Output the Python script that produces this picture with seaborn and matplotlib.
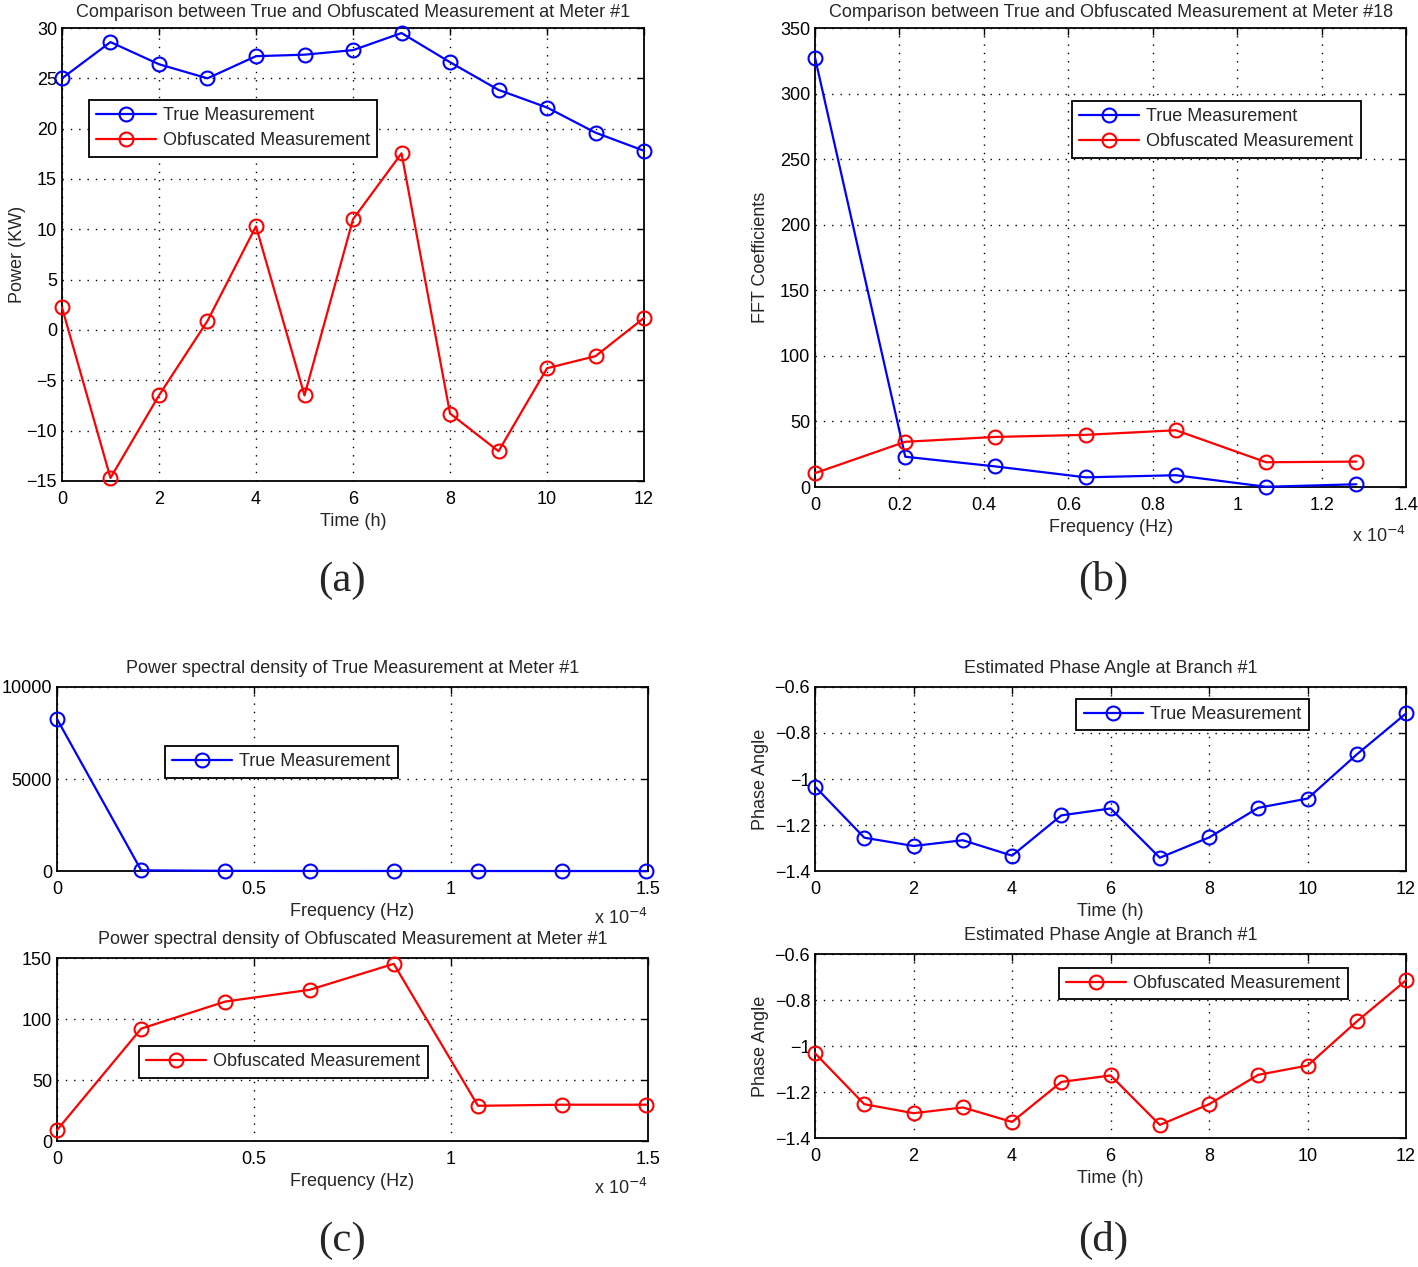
import numpy as np
import matplotlib
matplotlib.use("Agg")
import matplotlib.pyplot as plt
import seaborn as sns

# panel (a): power over time at meter #1
hours = list(range(13))
true_power = [25.0, 28.6, 26.4, 25.0, 27.2, 27.35, 27.8, 29.5, 26.6, 23.85, 22.1, 19.6, 17.8]
obf_power = [2.25, -14.7, -6.5, 0.9, 10.3, -6.5, 11.0, 17.55, -8.3, -12.05, -3.8, -2.6, 1.2]

# panel (b): FFT coefficients at meter #18 (frequency in units of 1e-4 Hz)
fft_freq = [0.0, 0.2137, 0.4274, 0.6410, 0.8547, 1.0684, 1.2821]
fft_true = [327.2, 23.1, 15.7, 7.4, 9.0, 0.2, 2.1]
fft_obf = [10.6, 34.5, 38.2, 39.8, 43.3, 18.9, 19.4]

# panel (c): power spectral density at meter #1
psd_freq = [0.0, 0.2137, 0.4274, 0.6410, 0.8547, 1.0684, 1.2821, 1.4957]
psd_true = [8260, 40, 12, 6, 4, 3, 2, 2]
psd_obf = [9.0, 92.2, 114.4, 124.0, 145.3, 28.9, 29.8, 29.8]

# panel (d): estimated phase angle at branch #1
phase_true = [-1.033, -1.255, -1.291, -1.266, -1.333, -1.158, -1.128, -1.342, -1.254, -1.125, -1.085, -0.893, -0.715]
phase_obf = [-1.032, -1.253, -1.292, -1.267, -1.330, -1.156, -1.128, -1.343, -1.253, -1.125, -1.085, -0.893, -0.714]

sns.set_theme(style="white")
plt.rcParams['font.family'] = ['Liberation Sans', 'DejaVu Sans']
plt.rcParams['xtick.direction'] = 'in'
plt.rcParams['ytick.direction'] = 'in'
plt.rcParams['axes.edgecolor'] = 'black'
plt.rcParams['axes.linewidth'] = 1.3
plt.rcParams['axes.unicode_minus'] = True

FS = 13
fig = plt.figure(figsize=(14.18, 12.67), dpi=100)

def style(ax, xt, yt, xlim, ylim):
    ax.set_xlim(xlim)
    ax.set_ylim(ylim)
    ax.set_xticks(xt)
    ax.set_yticks(yt)
    ax.tick_params(labelsize=FS, length=5, width=1, top=True, right=True, colors='black')
    ax.tick_params(axis='x', pad=7)
    ax.grid(True, color='black', linestyle=(0, (1, 5)), linewidth=1.0)
    for s in ax.spines.values():
        s.set_color('black')
        s.set_zorder(1)

def line(ax, x, y, color, label):
    sns.lineplot(x=x, y=y, ax=ax, color=color, marker='o', markersize=10,
                 markerfacecolor='none', markeredgecolor=color, markeredgewidth=1.5,
                 linewidth=1.6, label=label, clip_on=False, zorder=5)

def legend(ax, anchor):
    lg = ax.legend(loc='upper left', bbox_to_anchor=anchor, fontsize=FS, frameon=True,
                   fancybox=False, framealpha=1, edgecolor='black', borderpad=0.4,
                   handlelength=3.3, handletextpad=0.4, labelspacing=0.45, borderaxespad=0)
    lg.get_frame().set_linewidth(1.3)
    lg.set_zorder(10)

def times_note(ax, dy):
    ax.text(1.0, dy, r'x 10$^{-4}$', transform=ax.transAxes, ha='right', va='top', fontsize=FS)

# (a)
ax = fig.add_axes([0.0437, 0.6204, 0.4105, 0.3575])
line(ax, hours, true_power, 'blue', 'True Measurement')
line(ax, hours, obf_power, 'red', 'Obfuscated Measurement')
style(ax, range(0, 13, 2), range(-15, 31, 5), (0, 12), (-15, 30))
ax.set_title('Comparison between True and Obfuscated Measurement at Meter #1', fontsize=FS, pad=8)
ax.set_xlabel('Time (h)', fontsize=FS, labelpad=4)
ax.set_ylabel('Power (KW)', fontsize=FS, labelpad=0)
legend(ax, (0.046, 0.841))

# (b)
ax = fig.add_axes([0.5748, 0.6156, 0.4168, 0.3623])
line(ax, fft_freq, fft_true, 'blue', 'True Measurement')
line(ax, fft_freq, fft_obf, 'red', 'Obfuscated Measurement')
style(ax, [0, 0.2, 0.4, 0.6, 0.8, 1.0, 1.2, 1.4], range(0, 351, 50), (0, 1.4), (0, 350))
ax.set_xticklabels(['0', '0.2', '0.4', '0.6', '0.8', '1', '1.2', '1.4'])
ax.set_title('Comparison between True and Obfuscated Measurement at Meter #18', fontsize=FS, pad=8)
ax.set_xlabel('Frequency (Hz)', fontsize=FS, labelpad=4)
ax.set_ylabel('FFT Coefficients', fontsize=FS, labelpad=8)
legend(ax, (0.435, 0.841))
times_note(ax, -0.085)

# (c) top
ax = fig.add_axes([0.0402, 0.3125, 0.4168, 0.1453])
line(ax, psd_freq, psd_true, 'blue', 'True Measurement')
style(ax, [0, 0.5, 1.0, 1.5], [0, 5000, 10000], (0, 1.5), (0, 10000))
ax.set_xticklabels(['0', '0.5', '1', '1.5'])
ax.set_title('Power spectral density of True Measurement at Meter #1', fontsize=FS, pad=10)
ax.set_xlabel('Frequency (Hz)', fontsize=FS, labelpad=4)
ax.set_ylabel('')
legend(ax, (0.183, 0.679))
times_note(ax, -0.2)

# (c) bottom
ax = fig.add_axes([0.0402, 0.0994, 0.4168, 0.1444])
line(ax, psd_freq, psd_obf, 'red', 'Obfuscated Measurement')
style(ax, [0, 0.5, 1.0, 1.5], [0, 50, 100, 150], (0, 1.5), (0, 150))
ax.set_xticklabels(['0', '0.5', '1', '1.5'])
ax.set_title('Power spectral density of Obfuscated Measurement at Meter #1', fontsize=FS, pad=10)
ax.set_xlabel('Frequency (Hz)', fontsize=FS, labelpad=4)
ax.set_ylabel('')
legend(ax, (0.139, 0.519))
times_note(ax, -0.2)

# (d) top
ax = fig.add_axes([0.5748, 0.3125, 0.4168, 0.1453])
line(ax, hours, phase_true, 'blue', 'True Measurement')
style(ax, range(0, 13, 2), [-1.4, -1.2, -1.0, -0.8, -0.6], (0, 12), (-1.4, -0.6))
ax.set_yticklabels(['\u22121.4', '\u22121.2', '\u22121', '\u22120.8', '\u22120.6'])
ax.set_title('Estimated Phase Angle at Branch #1', fontsize=FS, pad=10)
ax.set_xlabel('Time (h)', fontsize=FS, labelpad=4)
ax.set_ylabel('Phase Angle', fontsize=FS, labelpad=4)
legend(ax, (0.442, 0.935))

# (d) bottom
ax = fig.add_axes([0.5748, 0.1018, 0.4168, 0.1452])
line(ax, hours, phase_obf, 'red', 'Obfuscated Measurement')
style(ax, range(0, 13, 2), [-1.4, -1.2, -1.0, -0.8, -0.6], (0, 12), (-1.4, -0.6))
ax.set_yticklabels(['\u22121.4', '\u22121.2', '\u22121', '\u22120.8', '\u22120.6'])
ax.set_title('Estimated Phase Angle at Branch #1', fontsize=FS, pad=10)
ax.set_xlabel('Time (h)', fontsize=FS, labelpad=4)
ax.set_ylabel('Phase Angle', fontsize=FS, labelpad=4)
legend(ax, (0.413, 0.924))

for lab, x, y in [('(a)', 0.241, 0.542), ('(b)', 0.778, 0.542), ('(c)', 0.241, 0.021), ('(d)', 0.778, 0.021)]:
    fig.text(x, y, lab, fontsize=31, family=['Liberation Serif', 'DejaVu Serif'], ha='center', va='center')

fig.savefig('out.png', dpi=100)
